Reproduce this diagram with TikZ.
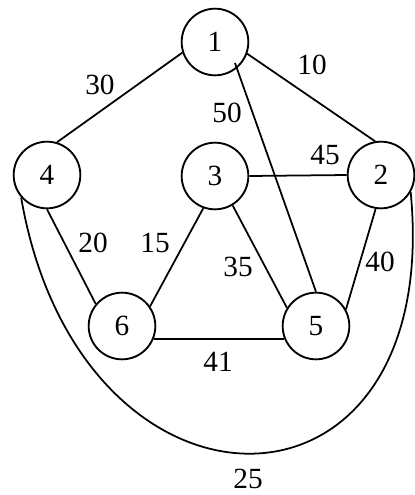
\documentclass[tikz,border=0pt]{standalone}
\usepackage{fontspec}
\setmainfont{Liberation Serif}
\begin{document}
\begin{tikzpicture}[x=0.03cm,y=-0.03cm,
  vert/.style={circle,draw,line width=1.6pt,minimum size=2cm,inner sep=0pt,font=\fontsize{25}{26}\selectfont},
  edge/.style={line width=1.5pt},
  wlabel/.style={inner sep=0pt,font=\fontsize{25}{26}\selectfont}]
\useasboundingbox (0,0) rectangle (415,495);
\node[vert] (n1) at (215,42) {1};
\node[vert] (n4) at (47,175) {4};
\node[vert] (n3) at (215,176) {3};
\node[vert] (n2) at (381,175) {2};
\node[vert] (n6) at (122,326) {6};
\node[vert] (n5) at (316,326) {5};
\coordinate (e15) at (235,63);
\draw[edge] (n1.198) -- (n4.73);
\draw[edge] (n1.340) -- (n2.100);
\draw[edge] (e15) -- (n5.north);
\draw[edge] (n3.east) -- (n2.west);
\draw[edge] (n4.south) -- (n6.140);
\draw[edge] (n3.250) -- (n6.35);
\draw[edge] (n3.301) -- (n5.148);
\draw[edge] (n2.261) -- (n5.29);
\draw[edge] (n6.338) -- (n5.202);
\draw[edge] (n4.221) .. controls (80,540) and (444,540) .. (n2.330);
\node[wlabel] (w30) at (100,85) {30};
\node[wlabel] (w10) at (312,65) {10};
\node[wlabel] (w50) at (227,113) {50};
\node[wlabel] (w45) at (325,155) {45};
\node[wlabel] (w20) at (93,243) {20};
\node[wlabel] (w15) at (155,243) {15};
\node[wlabel] (w35) at (238,267) {35};
\node[wlabel] (w40) at (380,262) {40};
\node[wlabel] (w41) at (218,362) {41};
\node[wlabel] (w25) at (248,479) {25};
\end{tikzpicture}
\end{document}
